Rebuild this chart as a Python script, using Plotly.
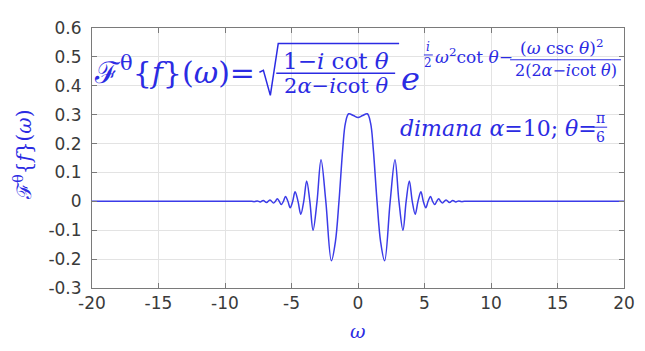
import plotly.graph_objects as go

# ---- data ----
omega = [-20, -10, -8.0, -7.78, -7.57, -7.35, -7.12, -6.88, -6.62, -6.35, -6.21, -6.07, -5.92,
         -5.77, -5.61, -5.45, -5.27, -5.10, -4.91, -4.73, -4.51, -4.30, -4.08, -3.86, -3.62,
         -3.38, -3.08, -2.78, -2.42, -2.00, -1.70, -1.43, -1.15, -0.95, -0.70, -0.35,
         0.00,
         0.35, 0.70, 0.95, 1.15, 1.43, 1.70, 2.00, 2.42, 2.78, 3.08, 3.38, 3.62, 3.86, 4.08,
         4.30, 4.51, 4.73, 4.91, 5.10, 5.27, 5.45, 5.61, 5.77, 5.92, 6.07, 6.21, 6.35, 6.62,
         6.88, 7.12, 7.35, 7.57, 7.78, 8.0, 10, 20]
F_values = [0.0, 0.0, 0.0, -0.001, 0.0015, -0.002, 0.003, -0.004, 0.005, -0.006, 0.0, 0.009, 0.0,
            -0.011, 0.0, 0.017, 0.0, -0.022, 0.0, 0.033, 0.0, -0.045, 0.0, 0.070, 0.0,
            -0.100, 0.0, 0.144, 0.0, -0.206, -0.140, 0.0, 0.180, 0.270, 0.303, 0.297,
            0.290,
            0.297, 0.303, 0.270, 0.180, 0.0, -0.140, -0.206, 0.0, 0.144, 0.0, -0.100, 0.0, 0.070, 0.0,
            -0.045, 0.0, 0.033, 0.0, -0.022, 0.0, 0.017, 0.0, -0.011, 0.0, 0.009, 0.0, -0.006, 0.005,
            -0.004, 0.003, -0.002, 0.0015, -0.001, 0.0, 0.0, 0.0]

x_ticks = [-20, -15, -10, -5, 0, 5, 10, 15, 20]
x_ticktext = ["-20", "-15", "-10", "-5", "0", "5", "10", "15", "20"]
y_ticks = [-0.3, -0.2, -0.1, 0, 0.1, 0.2, 0.3, 0.4, 0.5, 0.6]
y_ticktext = ["-0.3", "-0.2", "-0.1", "0", "0.1", "0.2", "0.3", "0.4", "0.5", "0.6"]

# ---- figure (page body has an 8px margin, so the figure is shifted by 8px) ----
OFF = 8
W, H = 645 - OFF, 351 - OFF
L, R, T, B = 92 - OFF, 16, 18 - OFF, 63
PW, PH = W - L - R, H - T - B
BLUE = "#2b2be3"
MATH = "DejaVu Serif"
AXC = "#7a7a7a"


def px(x):  # reference-picture pixel -> paper fraction
    return (x - OFF - L) / PW


def py(y):
    return (H - B - (y - OFF)) / PH


fig = go.Figure()
fig.add_trace(go.Scatter(x=omega, y=F_values, mode="lines",
                         line=dict(color="#3b3be8", width=1.5, shape="spline", smoothing=1.0),
                         hoverinfo="skip", showlegend=False))

annotations = []


def ann(text, x, y, size, xanchor="left", yanchor="middle", angle=0):
    annotations.append(dict(text=text, x=px(x), y=py(y), xref="paper", yref="paper",
                            xanchor=xanchor, yanchor=yanchor, showarrow=False, textangle=angle,
                            borderpad=0,
                            font=dict(family=MATH, size=size, color=BLUE)))


shapes = []


def hline(x0, x1, y, w=1.3):
    shapes.append(dict(type="line", xref="paper", yref="paper", x0=px(x0), x1=px(x1),
                       y0=py(y), y1=py(y), line=dict(color=BLUE, width=w)))


# main formula
ann("ℱ<sup>θ</sup>{<i>f</i>}(<i>ω</i>)=", 93, 62, 30)
ann("1−<i>i</i> cot <i>θ</i>", 338, 52, 23, xanchor="center")
hline(278, 398, 65)
ann("2<i>α</i>−<i>i</i>cot <i>θ</i>", 338, 78, 21, xanchor="center")
rad = [(261, 64), (265, 62), (272, 88), (280, 34), (402, 34)]
path = "M " + " L ".join(f"{px(a):.5f},{py(b):.5f}" for a, b in rad)
shapes.append(dict(type="path", xref="paper", yref="paper", path=path,
                   line=dict(color=BLUE, width=1.5)))
ann("<i>e</i>", 403, 71, 32)
ann("<i>i</i>", 431, 38, 12, xanchor="center")
hline(427, 436, 46, 1)
ann("2", 431, 54, 12, xanchor="center")
ann("<i>ω</i><sup>2</sup>cot <i>θ</i>−", 437, 47, 17)
ann("(<i>ω</i> csc <i>θ</i>)<sup>2</sup>", 566, 38, 17, xanchor="center")
hline(514, 626, 51, 1)
ann("2(2<i>α</i>−<i>i</i>cot <i>θ</i>)", 570, 62, 16, xanchor="center")

# parameters
ann("<i>dimana α</i>=10; <i>θ</i>=", 402, 122, 22)
ann("π", 605, 111, 14, xanchor="center")
hline(598, 612, 121, 1)
ann("6", 605, 131, 14, xanchor="center")

# axis titles
ann("ℱ<sup>θ</sup>{<i>f</i>}(<i>ω</i>)", 22, 150, 20, xanchor="center", angle=-90)
ann("<i>ω</i>", 360, 333, 19, xanchor="center")

axis_common = dict(showline=True, linecolor=AXC, linewidth=1, mirror="all",
                   ticks="inside", ticklen=5, tickcolor=AXC, showgrid=True,
                   gridcolor="#e3e3e3", gridwidth=1, zeroline=False,
                   ticklabeloverflow="allow",
                   tickfont=dict(family="DejaVu Sans", size=17, color="#3a3a3a"))

fig.update_layout(
    width=W, height=H, margin=dict(l=L, r=R, t=T, b=B),
    paper_bgcolor="white", plot_bgcolor="white",
    xaxis=dict(range=[-20, 20], tickvals=x_ticks, ticktext=x_ticktext,
               ticklabelstandoff=0, **axis_common),
    yaxis=dict(range=[-0.3, 0.6], tickvals=y_ticks, ticktext=y_ticktext,
               ticklabelstandoff=6, **axis_common),
    annotations=annotations, shapes=shapes,
)

fig.write_html("out.html")
